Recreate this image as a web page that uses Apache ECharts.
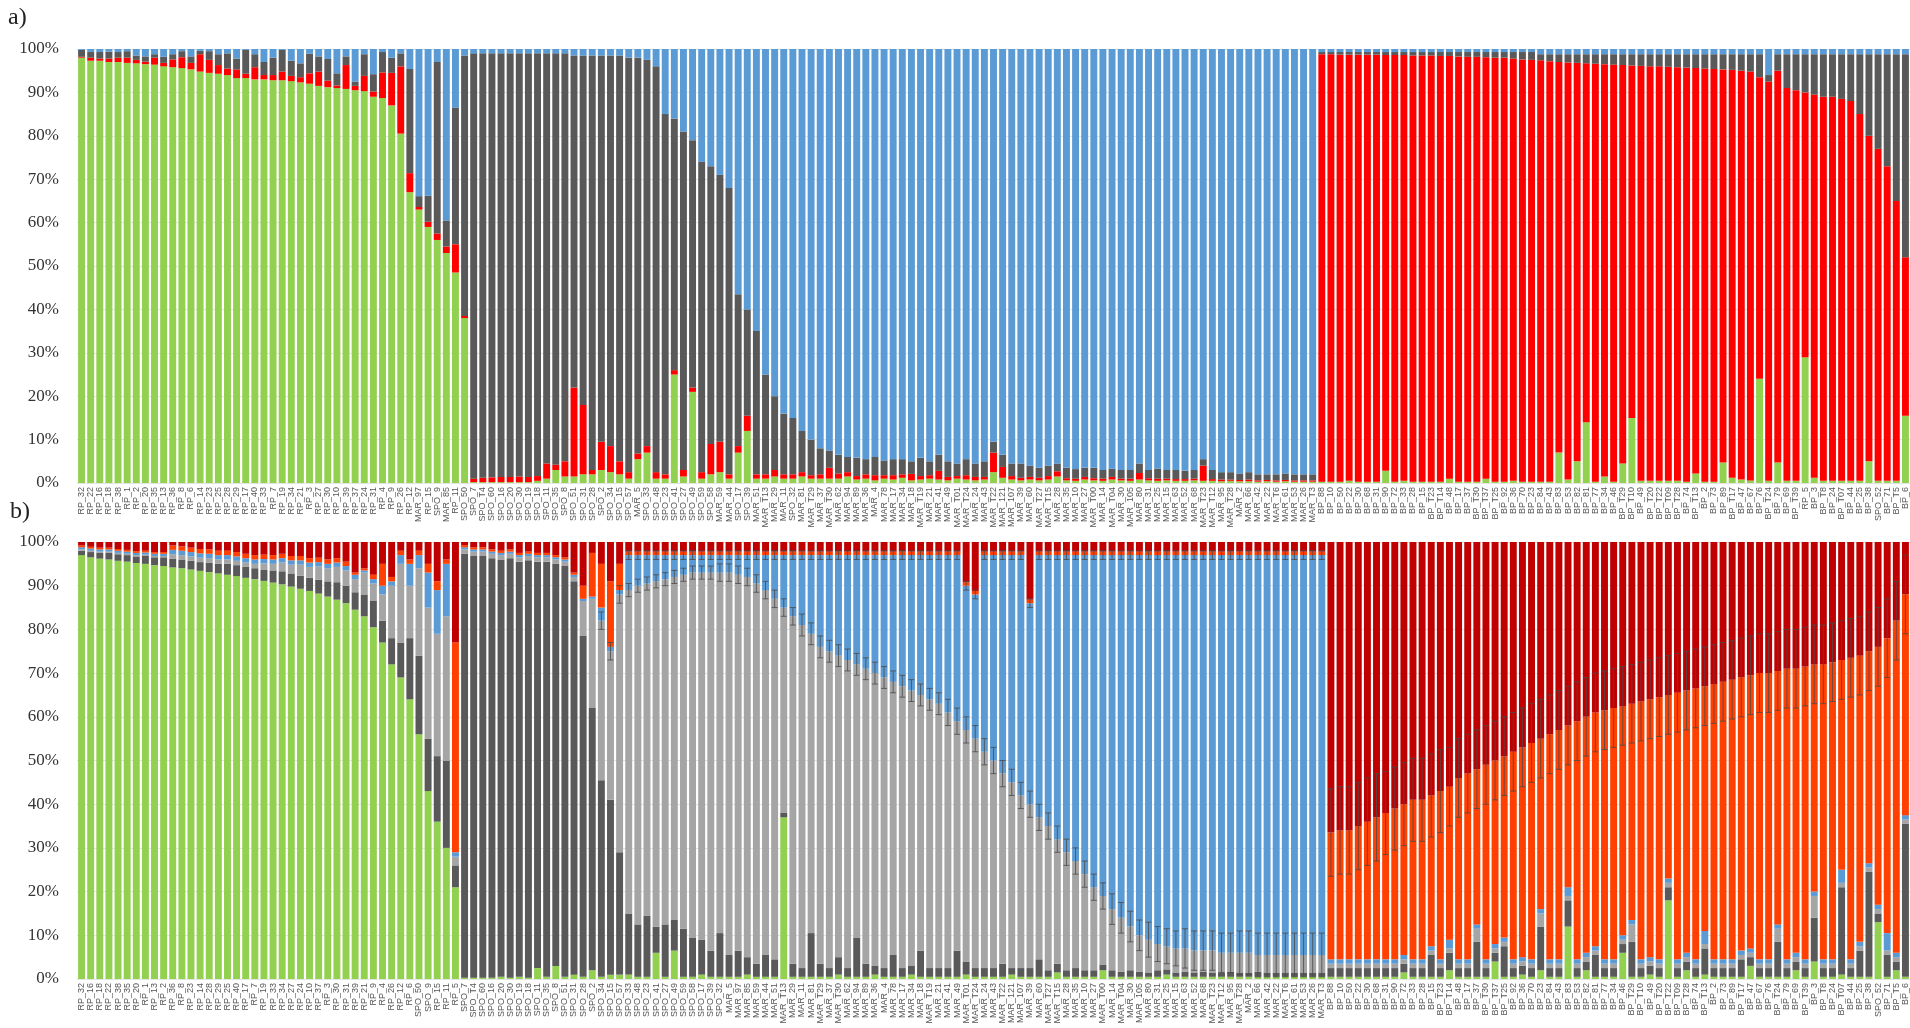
<!DOCTYPE html>
<html><head><meta charset="utf-8">
<script src="https://cdn.jsdelivr.net/npm/echarts@6/dist/echarts.min.js"></script>
<style>html,body{margin:0;padding:0;background:#fff}#c{width:1910px;height:1028px}</style>
</head><body><div id="c"></div>
<script>
const labelsA = ["RP_32","RP_22","RP_16","RP_18","RP_38","RP_1","RP_2","RP_20","RP_35","RP_13","RP_36","RP_8","RP_6","RP_14","RP_23","RP_25","RP_28","RP_29","RP_17","RP_40","RP_33","RP_7","RP_19","RP_34","RP_21","RP_3","RP_27","RP_30","RP_10","RP_39","RP_37","RP_24","RP_31","RP_4","RP_9","RP_26","RP_12","MAR_97","RP_15","SPO_9","MAR_85","RP_11",
"SPO_50","SPO_7","SPO_T4","SPO_60","SPO_16","SPO_20","SPO_30","SPO_19","SPO_18","SPO_11","SPO_35","SPO_8","SPO_51","SPO_31","SPO_28","SPO_2","SPO_34","SPO_15","SPO_57","MAR_5","SPO_33","SPO_48","SPO_23","SPO_41","SPO_27","SPO_49","SPO_59","SPO_58","MAR_59","MAR_44","SPO_17","SPO_39","MAR_51","MAR_T13","MAR_29","MAR_11","SPO_32","MAR_81","MAR_T29","MAR_37","MAR_T30","MAR_62","MAR_94","MAR_89","MAR_36","MAR_4","MAR_78","MAR_17","MAR_34","MAR_18","MAR_T19","MAR_21","MAR_41","MAR_49","MAR_T01","MAR_T24","MAR_24","MAR_43","MAR_T22","MAR_121","MAR_107","MAR_39","MAR_60","MAR_T27","MAR_T15","MAR_28","MAR_35","MAR_10","MAR_27","MAR_T00","MAR_14","MAR_T04","MAR_30","MAR_105","MAR_80","MAR_31","MAR_25","MAR_15","MAR_63","MAR_52","MAR_68","MAR_T23","MAR_T12","MAR_95","MAR_T28","MAR_2","MAR_66","MAR_42","MAR_22","MAR_T6","MAR_61","MAR_53","MAR_26","MAR_T3",
"BP_88","BP_10","BP_50","BP_22","BP_30","BP_68","BP_31","BP_90","BP_72","BP_33","BP_28","BP_15","BP_T23","BP_T14","BP_48","BP_17","BP_37","BP_T30","BP_T37","BP_T25","BP_92","BP_36","BP_70","BP_23","BP_84","BP_43","BP_83","BP_53","BP_82","BP_81","BP_77","BP_34","BP_46","BP_T29","BP_T10","BP_49","BP_T20","BP_T22","BP_T09","BP_T28","BP_74","BP_T13","BP_2","BP_73","BP_89","BP_T17","BP_47","BP_67","BP_76","BP_T24","BP_79","BP_69","BP_T39","RP_5","BP_3","BP_T8","BP_24","BP_T07","BP_44","BP_25","BP_38","SPO_52","BP_71","BP_T5","BP_6"];

const A_green = [98,97.3,97.3,97,97,96.8,96.7,96.5,96.4,96,95.8,95.6,95.3,94.8,94.5,94.3,94,93.3,93.3,93,93,92.8,92.8,92.6,92.3,92,91.5,91.2,91,90.8,90.5,90.3,89,88.7,87,80.5,
67,63,59,56,53,48.5,38,
.2,.2,.2,.2,.2,.2,.2,.5,1,3,1.5,1.5,2,2,3,2.5,2,1,5.5,7,1,1,25,1.5,21,1,2,2.5,1,7,12,1,1,1.5,
1,1,1.5,1,1,1,1,1.5,.8,1,.6,1,.8,1.2,.6,.8,1,.8,.6,1,.8,.6,.8,2.5,1.2,.8,.6,.8,.6,.8,1.5,.6,.5,.8,.6,.5,.8,.6,.5,.8,.6,.5,.6,.5,.5,.6,.5,.5,.4,.5,.4,.4,.3,.4,.3,.4,.3,.3,.3,
.3,.3,.3,.5,.3,.3,.3,2.8,.3,.5,.3,.3,.3,.3,1,.3,.3,.3,1,.3,.3,.5,.3,.3,.3,.3,7,.8,5,14,.3,1.5,.3,4.5,15,.5,.5,.5,.5,.5,.3,2.2,.3,.3,4.7,1.2,.8,.6,24,.5,4.7,.5,.5,29,1.2,.5,.5,.5,.5,.5,5,.5,.5,.5,15.5];
const A_red = [.2,.7,.5,.8,1,1.2,.8,.6,1.6,.8,1.8,2.5,1.5,4,3,2,1.5,2,1,2.8,1,1.2,2,1.2,1.2,2.4,3.3,1.5,.6,5.5,1,3.5,1.2,5.9,7.5,15.5,
4.4,.6,1.2,1.5,1.5,6.5,.5,
.8,1,1.1,1.2,1.2,1.3,1.2,1.1,3.5,1.2,3.5,20.5,16,1,6.5,6,3,1.5,1.3,1.5,1.5,1,1,1.5,1,1.5,7,7,1,1.5,3.5,1,1,1.5,
1,1,1,.8,1,2.5,1.2,1,.8,1,1.2,.8,1,.8,1.5,.8,.8,2,.8,.6,1,.8,.6,4.5,2.5,.8,.6,.6,.6,.8,1.2,.5,.5,.6,.5,.5,.6,.4,.5,1.5,.5,.5,.4,.4,.4,.4,3.5,.4,.4,.3,.3,.4,.3,.3,.3,.3,.3,.3,.3,
98.5,98.5,98.4,98.2,98.4,98.4,98.4,95.8,98.3,98.1,98.2,98.2,98.2,98.1,97.4,98,97.9,97.9,97.1,97.7,97.7,97.3,97.3,97.2,
97.1,96.9,90,96.1,91.8,82.7,96.3,95,96.1,91.8,81.2,95.6,95.5,95.5,95.4,95.3,95.4,93.4,95.2,95.1,90.6,94,94.2,94.2,69.5,92,90.3,90.5,90,61,88.3,88.5,88.5,88,87.5,84.5,75,76.5,72.5,64.5,36.5];
const A_gray = [1.6,1.3,1.5,1.6,1.3,1.5,1,1.2,.8,1.4,1.2,1.4,1.5,.8,2,2.5,3.5,2.5,5.5,3,3,4,5,3.5,3.2,4.5,3.5,5,2.8,2,1,5,4,4.7,3.5,3,
24,2.5,6,39.5,6,31.5,60,
98,97.8,97.7,97.6,97.6,97.5,97.6,97.4,94.5,94.8,94,76.5,80.5,95.5,89,90,93.5,95.5,91.2,89,93.5,83,58,78,57,71.5,64,61.5,66,35,24.5,33,23,17,
14,13,9.5,8.2,6,4,4.3,3.5,4.2,3.5,4.2,3.4,3.7,3.5,2.9,4.2,3.2,3.7,3.6,2.9,3.7,3.1,3.6,2.5,2.8,2.9,3.3,2.6,2.3,2.4,1.8,2.4,2.2,2.1,2.4,2,1.9,2,2,2.2,1.9,2.3,2,2.1,1.9,2,1.5,2.1,1.7,1.7,1.5,1.7,1.4,1.3,1.4,1.5,1.4,1.4,1.4,
.5,.5,.6,.6,.6,.6,.6,.7,.7,.7,.8,.8,.8,.9,.9,1,1.1,1.1,1.2,1.3,1.3,1.5,1.7,1.8,
1.4,1.6,1.8,1.9,2,2.1,2.2,2.3,2.4,2.5,2.6,2.7,2.8,2.8,2.9,3,3.1,3.2,3.3,3.4,3.5,3.6,3.8,4,5.3,1.5,3.8,7.8,8.3,8.8,9.3,9.8,9.8,10.3,10.8,13.8,18.8,21.8,25.8,33.8,46.8];

const labelsB = ["RP_32","RP_16","RP_18","RP_22","RP_38","RP_35","RP_20","RP_1","RP_13","RP_2","RP_36","RP_8","RP_23","RP_14","RP_28","RP_29","RP_25","RP_40","RP_17","RP_7","RP_19","RP_33","RP_34","RP_27","RP_24","RP_10","RP_37","RP_3","RP_30","RP_31","RP_39","RP_21","RP_9","RP_4","RP_26","RP_12","RP_6","SPO_50","SPO_9","RP_15","RP_11","RP_5",
"SPO_7","SPO_T4","SPO_60","SPO_16","SPO_20","SPO_30","SPO_19","SPO_18","SPO_11","SPO_35","SPO_8","SPO_51","SPO_31","SPO_28","SPO_2","SPO_34","SPO_15","SPO_57","SPO_33","SPO_48","SPO_23","SPO_41","SPO_27","SPO_49","SPO_59","SPO_58","SPO_17","SPO_39","SPO_32",
"MAR_5","MAR_97","MAR_85","MAR_59","MAR_44","MAR_51","MAR_T13","MAR_29","MAR_11","MAR_81","MAR_T29","MAR_37","MAR_T30","MAR_62","MAR_94","MAR_89","MAR_36","MAR_4","MAR_78","MAR_17","MAR_34","MAR_18","MAR_T19","MAR_21","MAR_41","MAR_49","MAR_T01","MAR_T24","MAR_24","MAR_43","MAR_T22","MAR_121","MAR_107","MAR_39","MAR_60","MAR_T27","MAR_T15","MAR_28","MAR_35","MAR_10","MAR_27","MAR_T00","MAR_14","MAR_T04","MAR_30","MAR_105","MAR_80","MAR_31","MAR_25","MAR_15","MAR_63","MAR_52","MAR_68","MAR_T23","MAR_T12","MAR_95","MAR_T28","MAR_2","MAR_66","MAR_42","MAR_22","MAR_T6","MAR_61","MAR_53","MAR_26","MAR_T3",
"BP_88","BP_10","BP_50","BP_22","BP_30","BP_68","BP_31","BP_90","BP_72","BP_33","BP_28","BP_15","BP_T23","BP_T14","BP_48","BP_17","BP_37","BP_T30","BP_T37","BP_T25","BP_92","BP_36","BP_70","BP_23","BP_84","BP_43","BP_83","BP_53","BP_82","BP_81","BP_77","BP_34","BP_46","BP_T29","BP_T10","BP_49","BP_T20","BP_T22","BP_T09","BP_T28","BP_74","BP_T13","BP_2","BP_73","BP_89","BP_T17","BP_47","BP_67","BP_76","BP_T24","BP_79","BP_69","BP_T39","BP_3","BP_T8","BP_24","BP_T07","BP_44","BP_25","BP_38","SPO_52","BP_71","BP_T5","BP_6"];

const B_green = [97,96.5,96.2,96,95.7,95.5,95.2,95,94.7,94.5,94.2,94,93.7,93.4,93.1,92.8,92.5,92.2,91.8,91.5,91.1,90.7,90.3,89.8,89.3,88.8,88.2,87.5,86.8,86,84.5,83,80.5,77,72,69,64,56,43,36,30,21,
.3,.3,.3,.3,.5,.3,.5,.3,2.5,.5,3,.5,1,.5,2,
.5,1,1,1,.5,.5,6,.5,6.5,.5,.5,1,.5,.5,.5,.5,1,.5,.5,.5,37,
.5,.5,.5,.5,.5,1,.5,.5,.5,1,.5,.5,.5,1,.5,.5,.5,.5,.5,1,.5,.5,.5,.5,1,.5,.5,.5,.5,1.5,.5,.5,.5,.5,2,.5,.5,.5,.5,.5,.5,1,
.5,.5,.5,.5,.5,.5,.5,.5,.5,.5,.5,.5,.5,.5,.5,.5,.5,
.5,.5,.5,.5,.5,.5,.5,.5,1.5,.5,.5,.5,.5,2,.5,.5,.5,.5,4,.5,.5,1,.5,2,.5,.5,12,.5,2,.5,.5,.5,6,.5,.5,1,.5,18,.5,2,.5,1,.5,.5,.5,.5,3,.5,.5,.5,.5,2,.5,4,.5,.5,1,.5,.5,.5,13,.5,2,.5];
const B_dgray = [1,1.2,1.3,1.5,1.5,1.5,1.5,1.8,1.8,2,2,2,2,2,2.2,2.2,2.5,2.5,2.5,2.5,2.5,2.8,3,3,3,3,3.2,3.5,4,4,4,5,6,5,6,8,14,18,12,15,20,5,
97,96.5,96.5,96,95.5,96,95,95.5,93,95,92,94,90,78,60,
45,40,28,14,12,14,6,12,7,11,9,8,6,10,5,6,4,3,5,4,1,3,2,10,3,2,4,2,9,3,2,2,5,2,2,6,2,2,2,6,3,2,2,2,3,1.5,2,2,4,1.5,2,1.5,2,1.5,
1.5,1.2,1.5,1.2,1.5,1.2,1,1.5,1.2,1,1.2,1,1.2,1,1,1.2,1,1,1.2,1,1,1,1,1,1,1,
2,2,2,2,2,2,2,2,2,2,2,5,2,4,2,2,8,2,2,7,2,2,2,10,2,2,6,2,2,5,2,2,2,8,2,2,2,3,2,2,2,6,2,2,2,4,2,2,2,8,2,2,2,10,2,2,20,2,6,24,2,5,2,35];
const B_lgray = [.3,.3,.3,.3,.3,.3,.3,.3,.3,.3,1,1,1,1,1,1,1,1,1,1,1.5,1.5,2,2,2.5,2.5,3,3,3.5,3.5,3,5,4,6,12,18,12,20,30,28,33,2,
1,1,1,1,1,1,1,1,1,1,1,1,1,8,25,
36.5,34,59,74,77.5,76,79,79,78.5,81,83.5,84,86.5,82.5,87.5,86,87,87,83.5,82.5,47,79.5,78.5,68.5,72.5,72.5,69,70.5,62.5,67.5,67,66.5,62.5,64.5,63,58.5,61.5,60.5,58.5,52.5,53,52.5,49.5,47.5,43.5,42.5,39.5,37.5,32.5,33,28.5,27,24.5,22,19,15.8,14,12.3,10,8.3,7.5,6,5.3,5.5,5.3,5,4.8,5,4.5,4.3,4.5,4.5,3.8,4,4,4,4,4,4,4,
1,1,1,1,1,1,1,1,1,1,1,1,1,1,1,1,3,1,1,1,1,1,1,3,1,1,1,1,1,1,1,1,1,4,1,1,1,1,1,1,1,1,1,1,1,1,1,1,1,3,1,1,1,5,1,1,1,1,1,1,1,1,1,1];
const B_blue = [.5,.5,.5,.5,.5,.5,.5,.5,.5,.5,1,1,1,1,1,1,1,1,1,1,1,1,1,1,1,1,1,1,1,1,1,.5,1,2,1,2,5,3,8,10,12,1,
.5,.5,.5,.5,.5,.5,.5,.5,.5,.5,.5,.5,.5,.5,.5,
3,1,1,8,7,6.5,6,5.5,5,4.5,4,4,4,4,4,4.5,5,6.5,8,10,12,14,16,18,21,22,23,24,25,26,27,28,29,30,31,32,33,34,36,38,33,33,45,47,50,52,55,46,60,62,65,68,70,73,76,78,81,83,85,87,88,89,89.5,90,90,90.5,90.5,90.5,91,91,91,91,91.5,91.5,91.5,91.5,91.5,91.5,91.5,91.5,
1,1,1,1,1,1,1,1,1,1,1,1,1,2,1,1,1,1,1,1,1,1,1,1,1,1,2,1,1,1,1,1,1,1,1,1,1,1,1,1,1,3,1,1,1,1,1,1,1,1,1,1,1,1,1,1,3,1,1,1,1,4,1,1];
const B_orange = [.4,.4,.4,.4,.4,.4,.4,.4,.4,.4,1,1,1,1,1,1,1,1,1,1,1,1,1,1,1,1,1,1,1,1,.5,.5,1,5,1,1,1,1,2,2,1,48,
.5,.5,.5,.5,.5,.5,.5,.5,.5,.5,.5,.5,.5,3,10,
10,15,6,.8,.8,.8,.8,.8,.8,.8,.8,.8,.8,.8,.8,.8,.8,.8,.8,.8,.8,.8,.8,.8,.8,.8,.8,.8,.8,.8,.8,.8,.8,.8,.8,.8,.8,.8,.8,.8,.8,.8,.8,.8,.8,.8,.8,.8,.8,.8,.8,.8,.8,.8,.8,.8,.8,.8,.8,.8,.8,.8,.8,.8,.8,.8,.8,.8,.8,.8,.8,.8,.8,.8,.8,.8,.8,.8,.8,.8,
29,29.5,29.5,30.5,31.5,32.5,33.5,34.5,34.5,36.5,36.5,34.5,38.5,35,41.5,42.5,35.5,44.5,42,41.5,47.5,48,49.5,39,51.5,52.5,37,54.5,54,53.5,57,57.5,52.5,49.5,59,59,60,42,61,60,62,56,63,63.5,64,62.5,62.5,65.5,65.5,58,66.5,65,67,52,67.5,68,48,69,65.5,48.5,59,67.5,76,50.5];
// error bars (± percentage points) for panel b, listed from the first bar that carries them
const errLG_from = 57;
const errLG = [2,2,2,1.5,1.5,1.5,1.5,1.5,1.5,1.5,1.5,1.5,1.5,2,2,2,2,2,2,2,2,2,2.5,2.5,2.5,2.5,2.5,2.5,2.5,2.5,2.5,2.5,2.5,2.5,2.5,2.5,2.5,2.5,3,3,3,3,3,3,3,3,3,3,3,3,3,3,3,3,3,3,3.5,3.5,3.5,3.5,4,4,4,4,4.5,4.5,4.5,4.5,4.5,4.5,5,5,5,5,5,5,5,5,5,5];
const errBL_from = 60;
const errBL = [1,1,1,1,1,1,1,1,1,1,1,1,1,1,1,1,1,1,1,1,1,1,1,1,1,1,1,1,1,1,1,1,1,1,1,1,1,1,1,1,1,1,1,1,1,1,1,1,1,1,1,1,1,1,1,1,1,1,1,1,1,1,1,1,1,1,1,1,1,1,1,1,1,1,1,1,1];
const errOR_from = 137;
const errOR = [10,10,10,10,10,10,9.5,9.5,9.5,9.5,9.5,9.5,9.5,9,9,9,9,9,9,9,9,9,9,9,9,9,9,9,9,9,9,9,9,9,9,9,9,9,9,9,9,9,9,9,9,9,9,9,9,9,9,9,9,9,9,9,9,9,9,9,9,9,9,9];

function rest(arrs){ return arrs[0].map((_,i)=> Math.max(0, +(100 - arrs.reduce((s,a)=>s+a[i],0)).toFixed(2))); }
const A_blue = rest([A_green,A_red,A_gray]);
const B_dred = rest([B_green,B_dgray,B_lgray,B_blue,B_orange]);
function cum(arrs, i){ return arrs.reduce((s,a)=>s+a[i],0); }
function errData(err, from, layers){
  return err.map((e,k)=>[from+k, cum(layers, from+k), e]);
}
const errData_b = []
  .concat(errData(errLG, errLG_from, [B_green,B_dgray,B_lgray]))
  .concat(errData(errBL, errBL_from, [B_green,B_dgray,B_lgray,B_blue]))
  .concat(errData(errOR, errOR_from, [B_green,B_dgray,B_lgray,B_blue,B_orange]));

const chart = echarts.init(document.getElementById('c'));
const gap = '24%';
function bar(name, data, color, idx){
  return {name, type:'bar', stack:'s'+idx, xAxisIndex:idx, yAxisIndex:idx, data,
    itemStyle:{color}, barCategoryGap:gap, animation:false, emphasis:{disabled:true}};
}
function yAx(g){
  return {type:'value', gridIndex:g, min:0, max:100, interval:10,
    axisLabel:{formatter:'{value}%', fontFamily:'Liberation Serif', fontSize:17, color:'#333', margin:18},
    splitLine:{lineStyle:{color:'#e4e4e4'}}, axisLine:{show:false}, axisTick:{show:false}};
}
function xAx(g, data){
  return {type:'category', gridIndex:g, data, axisTick:{show:false}, axisLine:{show:false},
    axisLabel:{rotate:90, interval:0, fontSize:9, color:'#555', margin:4, fontFamily:'Liberation Sans'}};
}
chart.setOption({
  backgroundColor:'#fff',
  animation:false,
  grid:[{left:77, right:0, top:49, height:434},{left:77, right:0, top:542, height:437}],
  xAxis:[xAx(0, labelsA), xAx(1, labelsB)],
  yAxis:[yAx(0), yAx(1)],
  graphic:[
    {type:'text', left:8, top:6, style:{text:'a)', fontFamily:'Liberation Serif', fontSize:24, fill:'#222'}},
    {type:'text', left:10, top:500, style:{text:'b)', fontFamily:'Liberation Serif', fontSize:24, fill:'#222'}}
  ],
  series:[
    bar('A green', A_green, '#92d050', 0),
    bar('A red', A_red, '#ff0000', 0),
    bar('A gray', A_gray, '#595959', 0),
    bar('A blue', A_blue, '#5b9bd5', 0),
    bar('B green', B_green, '#92d050', 1),
    bar('B dark gray', B_dgray, '#595959', 1),
    bar('B light gray', B_lgray, '#a5a5a5', 1),
    bar('B blue', B_blue, '#5b9bd5', 1),
    bar('B orange', B_orange, '#ff4000', 1),
    bar('B dark red', B_dred, '#c00000', 1),
    {type:'custom', xAxisIndex:1, yAxisIndex:1, data:errData_b, z:10, animation:false, silent:true,
      renderItem:function(params, api){
        const x = api.value(0), v = api.value(1), e = api.value(2);
        const lo = api.coord([x, v - e]), hi = api.coord([x, Math.min(100, v + e)]);
        const w = 3;
        const st = {stroke:'#4a4a4a', lineWidth:0.8};
        return {type:'group', children:[
          {type:'line', shape:{x1:lo[0], y1:lo[1], x2:hi[0], y2:hi[1]}, style:st},
          {type:'line', shape:{x1:lo[0]-w, y1:lo[1], x2:lo[0]+w, y2:lo[1]}, style:st},
          {type:'line', shape:{x1:hi[0]-w, y1:hi[1], x2:hi[0]+w, y2:hi[1]}, style:st}
        ]};
      }}
  ]
});
</script></body></html>
